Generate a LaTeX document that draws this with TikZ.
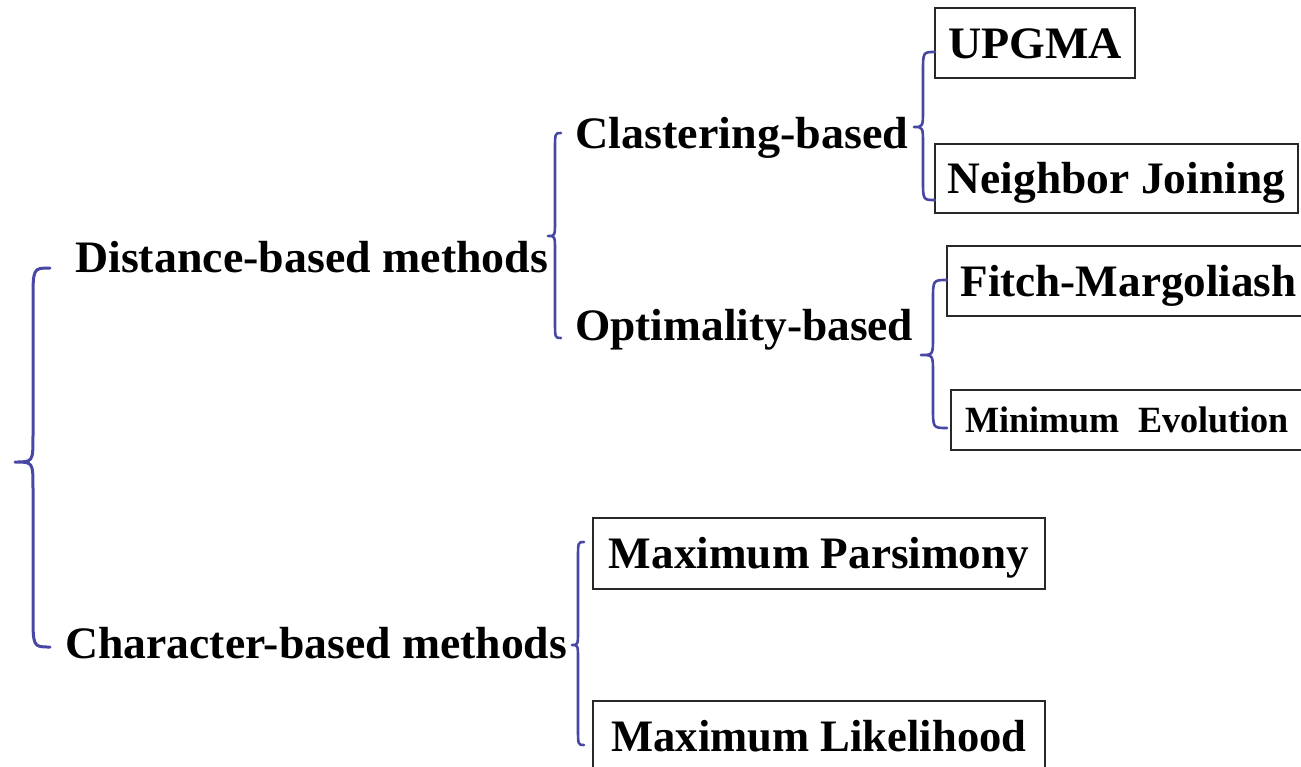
\documentclass[tikz,border=0pt]{standalone}
\usepackage{fontspec}
\setmainfont{Liberation Serif}
\usetikzlibrary{calc}
\definecolor{bracecol}{RGB}{72,72,164}
\definecolor{boxline}{RGB}{40,40,40}

% stretch a label horizontally to a given width, keeping its height
\newcommand\fitlabel[2]{\resizebox{#1}{\height}{#2}}

% curly brace: #1 top end, #2 tip, #3 bottom end, #4 spine offset from tip,
% #5 end curl size, #6 tip curl size, #7 extra style
\newcommand\curly[7]{%
  \draw[curlystroke,#7] let \p1=(#1),\p2=(#2),\p3=(#3) in
    (\p1) .. controls (\x2+#4,\y1) .. (\x2+#4,\y1-#5)
    -- (\x2+#4,\y2+#6) .. controls (\x2+#4,\y2) .. (\p2)
    .. controls (\x2+#4,\y2) .. (\x2+#4,\y2-#6)
    -- (\x2+#4,\y3+#5) .. controls (\x2+#4,\y3) .. (\p3);}

\begin{document}
\begin{tikzpicture}[x=1pt,y=-1pt,
  lbl/.style={anchor=base west, inner sep=0pt,
    font=\fontsize{45}{50}\selectfont\bfseries},
  method/.style={draw=boxline, line width=1.6pt, inner sep=0pt,
    font=\fontsize{45}{50}\selectfont\bfseries,
    text height=30pt, text depth=0pt},
  curlystroke/.style={draw=bracecol, line width=2.6pt, line cap=round, line join=round}]

\useasboundingbox (0,0) rectangle (1301,766);
\clip (0,0) rectangle (1301,766);

% category labels
\node[lbl] (dist)  at (75,272)  {\fitlabel{473pt}{Distance-based methods}};
\node[lbl] (charb) at (65,658)  {\fitlabel{502pt}{Character-based methods}};
\node[lbl] (clast) at (575,148) {\fitlabel{333pt}{Clastering-based}};
\node[lbl] (optim) at (575,340) {\fitlabel{338pt}{Optimality-based}};

% boxed methods
\node[method, minimum width=200pt, minimum height=70pt] (upgma) at (1035,43)
  {\fitlabel{174pt}{UPGMA}};
\node[method, minimum width=363pt, minimum height=69pt] (nj) at (1116.5,178.5)
  {\fitlabel{337pt}{Neighbor Joining}};
\node[method, minimum width=363pt, minimum height=70pt] (fitch) at (1128.5,281)
  {\fitlabel{336pt}{Fitch-Margoliash}};
\node[method, minimum width=352pt, minimum height=60pt, text height=24.5pt,
  font=\fontsize{37}{42}\selectfont\bfseries] (me) at (1127,420)
  {\fitlabel{323pt}{Minimum\ \ Evolution}};
\node[method, minimum width=452pt, minimum height=71pt] (mp) at (819,553.5)
  {\fitlabel{420pt}{Maximum Parsimony}};
\node[method, minimum width=452pt, minimum height=70pt] (ml) at (819,736)
  {\fitlabel{415pt}{Maximum Likelihood}};

% brace end points and tips
\coordinate (rootT) at (50,268);   \coordinate (rootP) at (15,462);   \coordinate (rootB) at (50,647);
\coordinate (distT) at (561,133);  \coordinate (distP) at (548,236);  \coordinate (distB) at (561,338);
\coordinate (clT)   at (935,52);   \coordinate (clP)   at (914,127);  \coordinate (clB)   at (935,200);
\coordinate (opT)   at (947,280);  \coordinate (opP)   at (921,355);  \coordinate (opB)   at (947,428);
\coordinate (chT)   at (584,542);  \coordinate (chP)   at (572,645);  \coordinate (chB)   at (584,745);

\curly{rootT}{rootP}{rootB}{18pt}{34pt}{26pt}{line width=3pt}
\curly{distT}{distP}{distB}{7pt}{17pt}{15pt}{}
\curly{clT}{clP}{clB}{9pt}{20pt}{18pt}{}
\curly{opT}{opP}{opB}{12pt}{20pt}{18pt}{}
\curly{chT}{chP}{chB}{6pt}{17pt}{15pt}{}

\end{tikzpicture}
\end{document}
